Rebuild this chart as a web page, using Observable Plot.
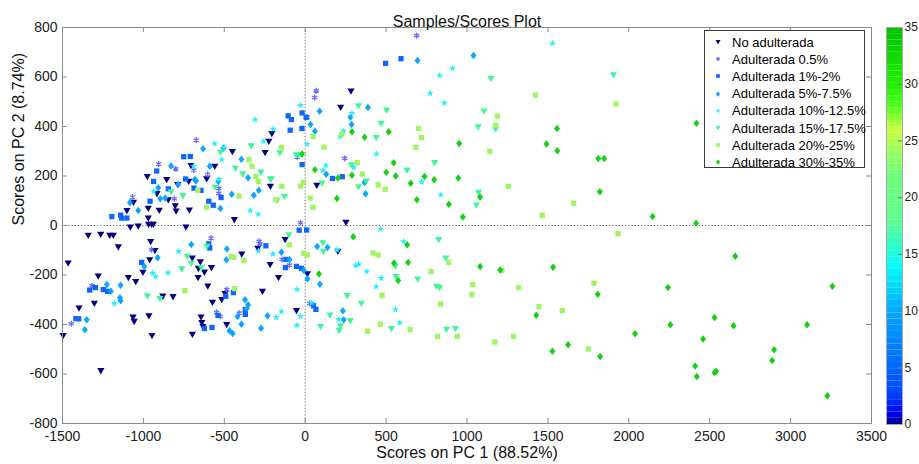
<!DOCTYPE html>
<html><head><meta charset="utf-8">
<script src="https://cdn.jsdelivr.net/npm/d3@7"></script>
<script src="https://cdn.jsdelivr.net/npm/@observablehq/plot@0.6"></script>
<style>
body{margin:0;background:#fff;font-family:"Liberation Sans",Arial,Helvetica,sans-serif;}
#wrap{position:relative;width:919px;height:464px;overflow:hidden;}
#legend{position:absolute;left:704px;top:30px;width:161px;height:138px;border:1px solid #3a3a3a;background:#fff;box-sizing:border-box;}
.row{position:absolute;left:0;height:17px;display:flex;align-items:center;font-size:13px;color:#000;white-space:nowrap;}
.row svg{margin-left:7px;margin-right:8px;}
</style></head>
<body><div id="wrap"><div id="legend"></div></div>
<script>
// ---------- data (PC1, PC2 scores) ----------
const seriesNames = ["No adulterada","Adulterada 0.5%","Adulterada 1%-2%","Adulterada 5%-7.5%","Adulterada 10%-12.5%","Adulterada 15%-17.5%","Adulterada 20%-25%","Adulterada 30%-35%"];
const noAdult = [[-206,371],[-225,340],[-248,294],[-450,298],[-706,242],[-559,239],[-215,158],[-976,197],[-856,185],[-916,128],[-846,103],[-803,79],[-798,58],[-788,165],[-720,178],[-609,188],[-1102,60],[-1061,93],[-970,69],[-970,30],[-902,61],[-716,62],[-438,23],[283,543],[219,477],[72,162],[252,12],[-1081,-7],[-1032,-3],[-968,4],[-949,4],[-939,4],[-737,-7],[-1341,-40],[-1264,-36],[-1208,-40],[-1186,-40],[-1155,-87],[-1465,-152],[-955,-65],[-929,-102],[-961,-139],[-1003,-190],[-1279,-205],[-1093,-211],[-1047,-227],[-1303,-315],[-1398,-334],[-1496,-445],[-1064,-371],[-1057,-388],[-966,-365],[-947,-445],[-880,-286],[-817,-288],[-698,-132],[-648,-147],[-660,-174],[-623,-189],[-579,-171],[-662,-211],[-602,-245],[-392,-116],[-264,-266],[-217,-158],[-293,-93],[-573,-311],[-516,-300],[-495,-276],[-485,-401],[-644,-370],[-639,-393],[-632,-409],[-697,-440],[-1263,-587],[-124,-57],[14,-196],[-165,-211],[-54,-344],[202,-105]];
const adult05 = [[-673,345],[-906,248],[-800,229],[-689,223],[-603,207],[-534,150],[-534,130],[-809,108],[-1067,115],[68,544],[58,517],[12,437],[-50,277],[244,271],[-29,11],[689,767],[-950,-98],[-1317,-243],[-1446,-397],[-582,-51],[-285,-64],[-280,-74],[-485,-259],[-408,-354],[-548,-351],[-526,-367],[-142,-137],[-97,-160],[27,-315]];
const adult1_2 = [[-751,278],[-710,279],[-918,220],[-937,178],[-846,148],[-739,188],[-687,151],[-644,142],[-520,113],[-959,98],[-1195,36],[-1141,42],[-1135,30],[-1102,30],[-596,98],[-568,82],[-105,443],[-85,428],[-19,455],[6,437],[-93,385],[-20,392],[-19,246],[169,190],[229,197],[497,655],[592,674],[9,-18],[-37,-19],[-119,-137],[-122,-170],[-54,-165],[-23,-173],[51,-324],[66,-339],[-596,-74],[-590,-91],[-1011,-149],[-1297,-251],[-1332,-261],[-1248,-259],[-1221,-266],[-1417,-376],[-1400,-377],[-491,-286],[-444,-271],[-370,-340],[-370,-359],[-539,-363],[-623,-416],[-576,-412],[-243,-82]];
const adult5_75 = [[-631,310],[-506,312],[-394,268],[-829,240],[-590,239],[-353,193],[-908,153],[-896,108],[-865,111],[-785,166],[-675,180],[-682,186],[-537,178],[-454,126],[-318,122],[-287,142],[-1083,93],[-1032,61],[-524,69],[388,477],[89,462],[279,437],[287,408],[33,408],[60,381],[130,207],[367,174],[373,128],[694,667],[1040,687],[74,-85],[138,-89],[233,-344],[238,-381],[-147,-108],[-97,-137],[-8,-182],[14,-216],[91,-237],[-912,-130],[-995,-166],[-1226,-238],[-1201,-266],[-1141,-241],[-1145,-292],[-1141,-304],[-1350,-381],[-1362,-421],[-704,-77],[-484,-95],[-487,-138],[-372,-300],[-353,-320],[-361,-335],[-418,-368],[-468,-425],[-448,-436],[-394,-399],[-273,-415],[-233,-365]];
const adult10_125 = [[-310,428],[-198,390],[-258,340],[-559,331],[-516,266],[-935,138],[-340,60],[-291,46],[-500,314],[-532,187],[-691,239],[-29,486],[289,454],[772,534],[860,495],[237,382],[216,359],[12,329],[441,289],[300,235],[128,243],[110,223],[720,176],[838,124],[1528,736],[831,606],[910,635],[465,-14],[608,-64],[312,-162],[331,-157],[380,-186],[470,-213],[439,-247],[557,-340],[206,-380],[584,-393],[198,-99],[-200,-115],[-51,-258],[42,-312],[-147,-348],[-179,-371],[-29,-367],[-51,-403],[-943,-192],[-924,-207],[-848,-191],[-1180,-315],[-782,-105],[-289,-103]];
const adult15_175 = [[-524,295],[-334,321],[-431,231],[-386,208],[-274,215],[-215,186],[-557,155],[-829,136],[-755,120],[330,483],[503,466],[1104,462],[1069,398],[469,412],[439,355],[-157,293],[-56,285],[-35,285],[285,245],[800,254],[629,223],[103,171],[330,156],[378,179],[1071,134],[1058,82],[-128,117],[-175,101],[-210,188],[1147,593],[1905,608],[1177,389],[825,-57],[109,-70],[113,-105],[869,-132],[557,-165],[561,-207],[695,-217],[812,-246],[831,-251],[260,-284],[347,-315],[153,-362],[278,-385],[219,-407],[95,-409],[210,-425],[533,-417],[873,-420],[928,-417],[-101,-38],[-975,-285],[-898,-296],[-729,-125],[-704,-153],[-763,-176],[-641,-172],[-607,-85]];
const adult20_25 = [[-348,266],[-328,239],[-305,198],[-289,178],[-664,142],[-409,119],[-609,74],[-181,105],[227,369],[48,360],[701,392],[718,355],[683,316],[-147,316],[116,316],[322,254],[353,208],[-11,175],[-29,159],[-144,158],[451,164],[495,146],[31,111],[48,74],[1921,491],[1422,527],[1187,442],[1177,405],[1141,300],[1255,158],[1659,90],[1465,41],[1933,-33],[-10,-112],[12,-119],[419,-111],[450,-119],[887,-149],[778,-186],[1036,-239],[1030,-278],[1319,-251],[1785,-233],[475,-282],[837,-317],[1445,-328],[1589,-344],[464,-399],[386,-427],[648,-421],[818,-448],[940,-448],[1172,-471],[1287,-448],[1749,-499],[1215,-182],[-99,-78],[-458,-126],[-441,-128],[-379,-142],[-743,-263],[-435,-255]];
const adult30_35 = [[289,379],[516,379],[367,357],[952,331],[-19,289],[547,254],[60,225],[289,203],[501,215],[559,200],[202,192],[652,171],[737,198],[797,185],[946,192],[690,104],[888,86],[974,34],[1081,115],[196,109],[1556,392],[1491,329],[1558,302],[1811,271],[1848,271],[1821,136],[2418,413],[2147,36],[2416,9],[297,-45],[630,-78],[636,-149],[549,-152],[575,-222],[1081,-166],[1205,-180],[1532,-169],[1808,-278],[1428,-363],[1528,-508],[1625,-482],[1823,-529],[85,-196],[2658,-124],[2242,-251],[3258,-245],[2530,-372],[2257,-401],[2647,-405],[3102,-401],[2039,-437],[2459,-459],[2898,-502],[2886,-545],[2410,-568],[2420,-610],[2530,-595],[2540,-589],[3227,-688]];
const xTicks = [-1500,-1000,-500,0,500,1000,1500,2000,2500,3000,3500];
const yTicks = [-800,-600,-400,-200,0,200,400,600,800];
const cbTicks = [0,5,10,15,20,25,30,35];
const cbStops = [0,1,2.5,5,10,14,16,18,22,24,26,28,30,35];
const cbColors = ["#000080","#0000ff","#0040ff","#0066ff","#00a8ff","#00ffff","#30ffc0","#60ff90","#70ff78","#98ff60","#c8ff40","#50ff20","#20f000","#00c000"];

// ---------- symbols ----------
const rr = s => Math.sqrt(s/Math.PI);
const triDown = {draw(c,s){const r=rr(s);c.moveTo(-r,-0.75*r);c.lineTo(r,-0.75*r);c.lineTo(0,r);c.closePath();}};
const diamondSym = {draw(c,s){const r=rr(s);c.moveTo(0,-1.25*r);c.lineTo(r,0);c.lineTo(0,1.25*r);c.lineTo(-r,0);c.closePath();}};
const squareSym = {draw(c,s){const r=rr(s)*0.88;c.rect(-r,-r,2*r,2*r);}};
const asteriskSym = {draw(c,s){const r=rr(s);for(const a of [0,60,120]){const t=a*Math.PI/180;c.moveTo(-r*Math.sin(t),-r*Math.cos(t));c.lineTo(r*Math.sin(t),r*Math.cos(t));}}};
const starSym = {draw(c,s){d3.symbolStar.draw(c,s*0.45);}};

const series = [
  {name:seriesNames[0], data:noAdult,    sym:triDown,    color:"#000080", r:3.6, stroke:false},
  {name:seriesNames[1], data:adult05,    sym:asteriskSym,color:"#6a6aff", r:3.0, stroke:true},
  {name:seriesNames[2], data:adult1_2,   sym:squareSym,  color:"#0f66ff", r:3.0, stroke:false},
  {name:seriesNames[3], data:adult5_75,  sym:diamondSym, color:"#0aa6ff", r:3.0, stroke:false},
  {name:seriesNames[4], data:adult10_125,sym:starSym,    color:"#1ef0ff", r:3.4, stroke:false},
  {name:seriesNames[5], data:adult15_175,sym:triDown,    color:"#40f59a", r:3.6, stroke:false},
  {name:seriesNames[6], data:adult20_25, sym:squareSym,  color:"#a0f560", r:3.0, stroke:false},
  {name:seriesNames[7], data:adult30_35, sym:diamondSym, color:"#14d114", r:3.0, stroke:false}
];

const fmt = d => String(d);
const frameColor = "#8a8a8a";
const marks = [
  Plot.ruleX([0], {stroke:"#666", strokeDasharray:"1.2,2", strokeWidth:1}),
  Plot.ruleY([0], {stroke:"#666", strokeDasharray:"1.2,2", strokeWidth:1}),
];
for (const s of series) {
  marks.push(Plot.dot(s.data, {x:d=>d[0], y:d=>d[1], r:s.r, symbol:s.sym,
    fill: s.stroke ? "none" : s.color, stroke: s.stroke ? s.color : "none", strokeWidth: s.stroke ? 1.3 : 0}));
}
marks.push(
  Plot.frame({stroke:frameColor}),
  Plot.tickX(xTicks, {x:d=>d, insetTop:391, stroke:frameColor}),
  Plot.tickX(xTicks, {x:d=>d, insetBottom:391, stroke:frameColor}),
  Plot.tickY(yTicks, {y:d=>d, insetRight:804, stroke:frameColor}),
  Plot.tickY(yTicks, {y:d=>d, insetLeft:804, stroke:frameColor}),
  Plot.axisX(xTicks, {tickSize:0, tickPadding:8, label:null, fontSize:14, tickFormat:fmt}),
  Plot.axisY(yTicks, {tickSize:0, tickPadding:5, label:null, fontSize:14, tickFormat:fmt}),
  Plot.text(["Samples/Scores Plot"], {text:d=>d, frameAnchor:"top", dy:-12, fontSize:16, fill:"#111"}),
  Plot.text(["Scores on PC 1 (88.52%)"], {text:d=>d, frameAnchor:"bottom", dy:34, fontSize:16, fill:"#111"}),
  Plot.text(["Scores on PC 2 (8.74%)"], {text:d=>d, frameAnchor:"left", rotate:-90, dx:-44, fontSize:16, fill:"#111"})
);

const chart = Plot.plot({
  width:919, height:464,
  marginLeft:62, marginRight:48, marginTop:27, marginBottom:41,
  style:{fontFamily:'"Liberation Sans",Arial,Helvetica,sans-serif', fontSize:"14px", color:"#222", background:"transparent", overflow:"visible"},
  x:{domain:[-1500,3500]},
  y:{domain:[-800,800]},
  marks
});
const wrap = document.getElementById("wrap");
wrap.insertBefore(chart, wrap.firstChild);

// ---------- colorbar ----------
const nBands = 64;
const bands = d3.range(nBands).map(i => ({y1: i*35/nBands, y2:(i+1)*35/nBands}));
const cb = Plot.plot({
  width:49, height:464,
  marginLeft:16, marginRight:17, marginTop:27, marginBottom:40,
  style:{fontFamily:'"Liberation Sans",Arial,Helvetica,sans-serif', fontSize:"12px", color:"#222", background:"transparent", overflow:"visible"},
  x:{domain:[0,1], axis:null},
  y:{domain:[0,35]},
  color:{type:"linear", domain:cbStops, range:cbColors},
  marks:[
    Plot.rect(bands, {x1:0, x2:1, y1:"y1", y2:"y2", fill:d=>(d.y1+d.y2)/2}),
    Plot.tickY(cbTicks, {y:d=>d, insetLeft:12, stroke:"#777"}),
    Plot.frame({stroke:"#aaa"}),
    Plot.axisY(cbTicks, {anchor:"right", tickSize:0, tickPadding:2, label:null, fontSize:12, tickFormat:fmt})
  ]
});
cb.style.position = "absolute"; cb.style.left = "870px"; cb.style.top = "0px";
wrap.appendChild(cb);

// ---------- legend ----------
const legend = document.getElementById("legend");
series.forEach((s,i) => {
  const row = document.createElement("div");
  row.className = "row";
  row.style.top = (2.5 + i*17.2) + "px";
  const size = Math.PI*(s.r*0.7)**2;
  const path = d3.symbol(s.sym, size)();
  row.innerHTML = `<svg width="12" height="12" viewBox="-6 -6 12 12"><path d="${path}" fill="${s.stroke?"none":s.color}" stroke="${s.stroke?s.color:"none"}" stroke-width="1.2"/></svg><span></span>`;
  row.querySelector("span").textContent = s.name;
  legend.appendChild(row);
});
</script></body></html>
